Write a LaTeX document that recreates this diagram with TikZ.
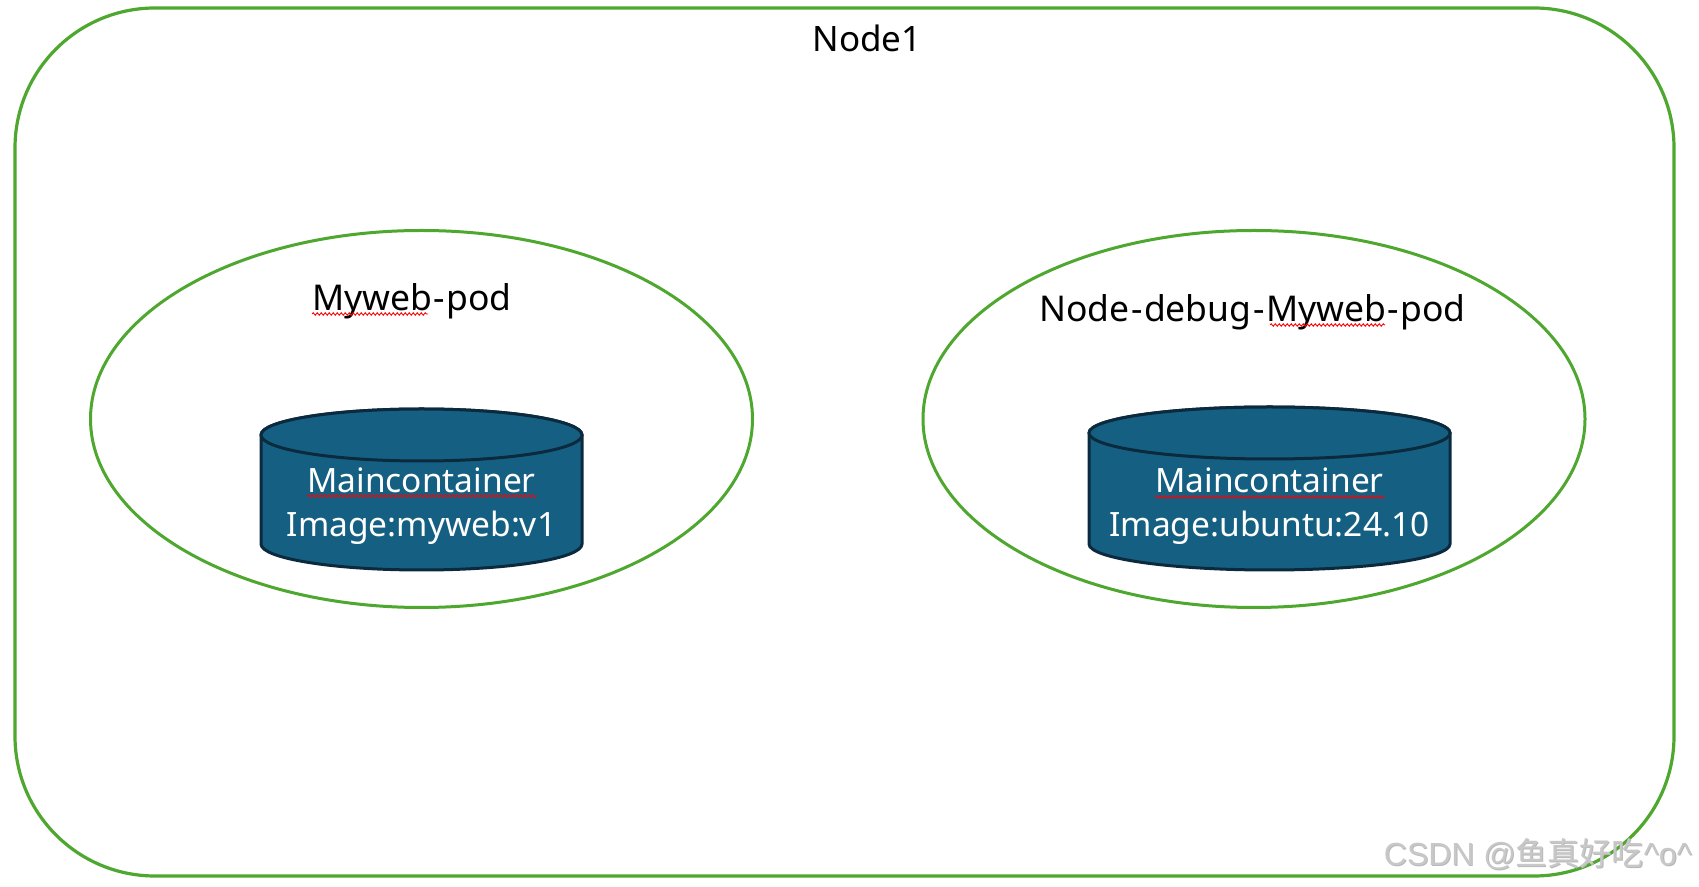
\documentclass[tikz,border=0pt]{standalone}
\usepackage{fontspec}
\setmainfont{Noto Sans}
\newfontfamily\wmfont{Liberation Sans}
\newfontfamily\cjk{Noto Sans CJK SC}
\usetikzlibrary{decorations.pathmorphing}
\definecolor{boxgreen}{HTML}{4EA72E}
\definecolor{cylfill}{HTML}{156082}
\definecolor{cylline}{HTML}{0C2A3E}
\definecolor{wmgray}{HTML}{C8C8C8}
\newcommand{\hy}{\kern1.5pt-\kern1.5pt}
\tikzset{
  frame/.style={draw=boxgreen, line width=3.2pt, rounded corners=140pt},
  pod/.style={draw=boxgreen, line width=3pt},
  cyl/.style={draw=cylline, fill=cylfill, line width=3pt},
  lbl/.style={font=\fontsize{35.5}{40}\selectfont, text=black, inner sep=0pt, anchor=base},
  clbl/.style={font=\fontsize{33.5}{40}\selectfont, text=white, inner sep=0pt, anchor=base},
  spell/.style={draw=red, line width=0.9pt, decorate, decoration={snake, amplitude=1.2pt, segment length=4pt}},
  wm/.style={font=\fontsize{32}{36}\selectfont, inner sep=0pt, anchor=base east},
}
\begin{document}
\begin{tikzpicture}[x=1pt,y=1pt]
\useasboundingbox (0,0) rectangle (1699,886);
\fill[white] (0,0) rectangle (1699,886);
% outer node frame
\draw[frame] (15,10) rectangle (1674,878);
\node[lbl, font=\fontsize{35}{40}\selectfont] (node1) at (867,834) {Node1};
% pods
\draw[pod] (421.5,467) ellipse [x radius=331, y radius=188.5];
\draw[pod] (1254,467) ellipse [x radius=331, y radius=188.5];
\node[lbl] (pod1) at (412,575) {Myweb\hy pod};
\node[lbl] (pod2) at (1252.5,564) {Node\hy debug\hy Myweb\hy pod};
% left cylinder
\draw[cyl] (261,451) -- (261,342) arc[start angle=180, end angle=360, x radius=160.5, y radius=26] -- (582,451) arc[start angle=0, end angle=180, x radius=160.5, y radius=26] -- cycle;
\draw[cyl] (421.5,451) ellipse [x radius=160.5, y radius=26];
\node[clbl] (c1a) at (421.5,393) {Maincontainer};
\node[clbl] (c1b) at (421.5,349) {Image:myweb:v1};
% right cylinder
\draw[cyl] (1089,453) -- (1089,342) arc[start angle=180, end angle=360, x radius=180.5, y radius=26] -- (1450,453) arc[start angle=0, end angle=180, x radius=180.5, y radius=26] -- cycle;
\draw[cyl] (1269.5,453) ellipse [x radius=180.5, y radius=26];
\node[clbl] (c2a) at (1269.5,393) {Maincontainer};
\node[clbl] (c2b) at (1269.5,349) {Image:ubuntu:24.10};
% spell-check marks
\draw[spell] (312,572) -- (428,572);
\draw[spell] (1270,561) -- (1385,561);
\draw[spell] (307,390) -- (537,390);
\draw[spell] (1155,389) -- (1385,389);
% watermark
\node[wm, text=gray!55] at (1693,20) {\wmfont CSDN @\cjk 鱼真好吃\wmfont\^{}o\^{}};
\node[wm, text=wmgray] (wmk) at (1692,21) {\wmfont CSDN @\cjk 鱼真好吃\wmfont\^{}o\^{}};
\end{tikzpicture}
\end{document}
